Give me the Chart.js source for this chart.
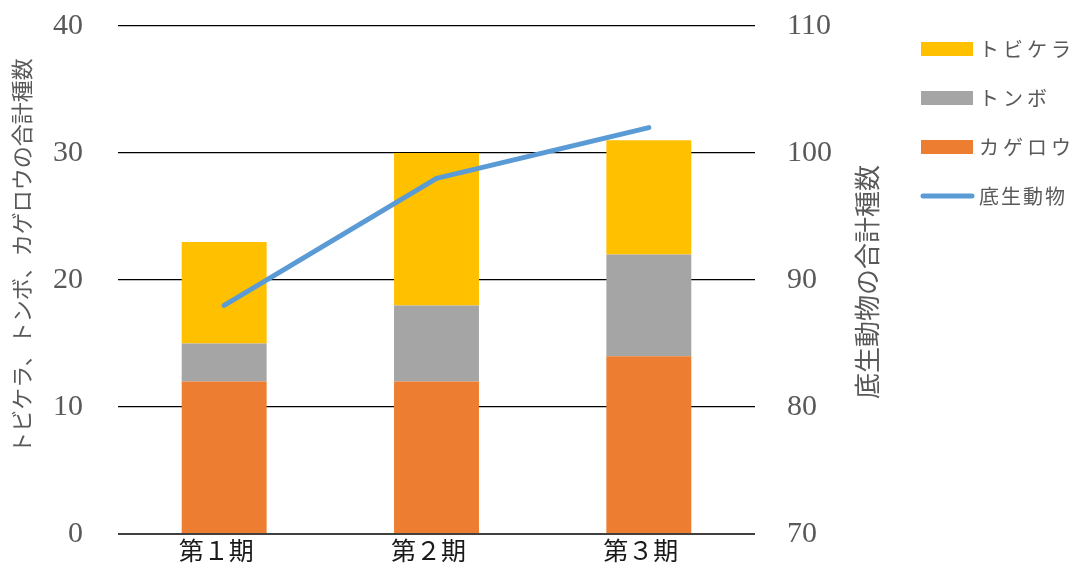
<!DOCTYPE html>
<html>
<head>
<meta charset="utf-8">
<script src="https://cdn.jsdelivr.net/npm/chart.js@4/dist/chart.umd.min.js"></script>
<style>
  html, body { margin: 0; padding: 0; background: #fff; }
  #wrap { width: 1076px; height: 567px; }
</style>
</head>
<body>
<div id="wrap"><canvas id="chart" width="1076" height="567"></canvas></div>
<script>
const periods = ["第１期", "第２期", "第３期"];
const kagerou = [12, 12, 14];
const tonbo = [3, 6, 8];
const tobikera = [8, 12, 9];
const benthos = [88, 98, 102];

const leftTicks = [0, 10, 20, 30, 40];
const rightTicks = [70, 80, 90, 100, 110];

const leftTitle = "トビケラ、トンボ、カゲロウの合計種数";
const rightTitle = "底生動物の合計種数";

const numFont = "'Liberation Serif', 'Noto Sans CJK JP', serif";
const jpFont = "'Noto Sans CJK JP', 'Liberation Serif', serif";
const gray = "#595959";

function noPad(scale) {
    scale.paddingTop = 0;
    scale.paddingBottom = 0;
    scale.paddingLeft = 0;
    scale.paddingRight = 0;
}

// legend + axis titles drawn by hand (right title reads bottom-to-top)
const extras = {
    id: "extras",
    afterDraw(chart) {
        const ctx = chart.ctx;
        ctx.save();
        ctx.fillStyle = gray;
        ctx.textAlign = "center";
        ctx.textBaseline = "middle";

        ctx.font = "22px " + jpFont;
        ctx.translate(22, 256);
        ctx.rotate(-Math.PI / 2);
        ctx.fillText(leftTitle, 0, 0);
        ctx.restore();

        ctx.save();
        ctx.fillStyle = gray;
        ctx.textAlign = "center";
        ctx.textBaseline = "middle";
        ctx.font = "26px " + jpFont;
        ctx.translate(867, 282);
        ctx.rotate(-Math.PI / 2);
        ctx.fillText(rightTitle, 0, 0);
        ctx.restore();

        const order = [2, 1, 0, 3];
        ctx.save();
        ctx.textBaseline = "middle";
        ctx.textAlign = "left";
        order.forEach(function (idx, i) {
            const ds = chart.data.datasets[idx];
            const cy = 49 + i * 49;
            if (ds.type === "line") {
                ctx.strokeStyle = ds.borderColor;
                ctx.lineWidth = 5;
                ctx.lineCap = "round";
                ctx.beginPath();
                ctx.moveTo(923, cy);
                ctx.lineTo(972, cy);
                ctx.stroke();
            } else {
                ctx.fillStyle = ds.backgroundColor;
                ctx.fillRect(921, cy - 7, 52, 14);
            }
            ctx.fillStyle = gray;
            ctx.font = "20px " + jpFont;
            ctx.letterSpacing = ds.type === "line" ? "2px" : "4px";
            ctx.fillText(ds.label, 979, cy);
        });
        ctx.restore();
    }
};

new Chart(document.getElementById("chart").getContext("2d"), {
    type: "bar",
    data: {
        labels: periods,
        datasets: [
            { label: "カゲロウ", data: kagerou, backgroundColor: "#ED7D31", yAxisID: "y", order: 1 },
            { label: "トンボ", data: tonbo, backgroundColor: "#A5A5A5", yAxisID: "y", order: 1 },
            { label: "トビケラ", data: tobikera, backgroundColor: "#FFC000", yAxisID: "y", order: 1 },
            {
                type: "line", label: "底生動物", data: benthos, yAxisID: "y2", order: 0,
                borderColor: "#5B9BD5", backgroundColor: "#5B9BD5", borderWidth: 5,
                borderCapStyle: "round", borderJoinStyle: "round", pointRadius: 0, tension: 0, fill: false
            }
        ]
    },
    options: {
        responsive: false,
        animation: false,
        devicePixelRatio: 1,
        layout: { padding: { top: 26, right: 176, left: 0, bottom: 0 } },
        datasets: { bar: { barPercentage: 0.4, categoryPercentage: 1 } },
        plugins: { legend: { display: false }, tooltip: { enabled: false } },
        scales: {
            x: {
                stacked: true,
                grid: { display: false, drawTicks: false },
                border: { display: false },
                ticks: { color: "#1a1a1a", font: { family: jpFont, size: 25 }, padding: 1, labelOffset: -8 },
                afterFit(scale) { scale.height = 33; noPad(scale); }
            },
            y: {
                stacked: true,
                position: "left",
                min: 0, max: 40,
                afterBuildTicks(scale) { scale.ticks = leftTicks.map(function (v) { return { value: v }; }); },
                grid: {
                    drawTicks: false,
                    color: function (c) { return c.tick && c.tick.value === 0 ? "#404040" : "#000"; },
                    lineWidth: function (c) { return c.tick && c.tick.value === 0 ? 2 : 1.3; }
                },
                border: { display: false },
                ticks: { color: gray, font: { family: numFont, size: 30 }, padding: 35 },
                afterFit(scale) { scale.width = 118; noPad(scale); }
            },
            y2: {
                position: "right",
                min: 70, max: 110,
                afterBuildTicks(scale) { scale.ticks = rightTicks.map(function (v) { return { value: v }; }); },
                grid: { drawOnChartArea: false, drawTicks: false },
                border: { display: false },
                ticks: { color: gray, font: { family: numFont, size: 30 }, padding: 32 },
                afterFit(scale) { scale.width = 145; noPad(scale); }
            }
        }
    },
    plugins: [extras]
});
</script>
</body>
</html>
